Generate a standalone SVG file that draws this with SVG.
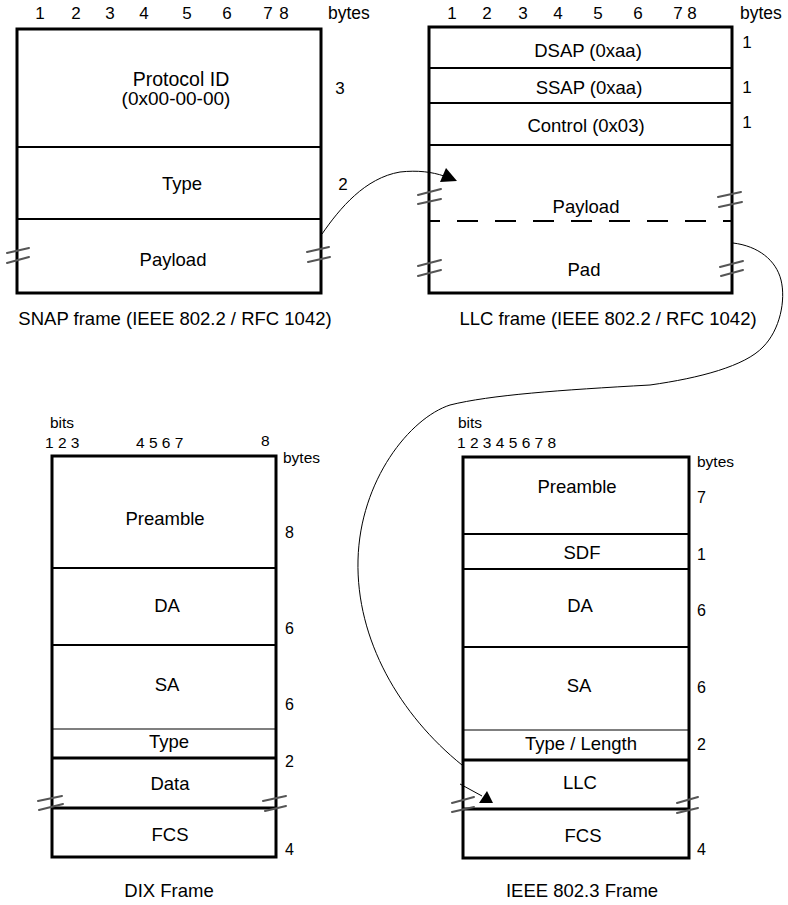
<svg xmlns="http://www.w3.org/2000/svg" width="788" height="905" viewBox="0 0 788 905">
<style>
text{font-family:"Liberation Sans",Arial,sans-serif;fill:#000}
.t{font-size:18.5px;text-anchor:middle}
.n{font-size:16px}
.nc{font-size:17px;text-anchor:middle}
.s{font-size:15.5px}
.by{font-size:17.5px}
.cap{font-size:18.5px;text-anchor:middle}
.outer{fill:#fff;stroke:#000;stroke-width:3}
.div{stroke:#000;stroke-width:2.2;fill:none}
.thin{stroke:#000;stroke-width:1.2;fill:none}
.thick{stroke:#000;stroke-width:3.2;fill:none}
.brk{stroke:#555;stroke-width:2;fill:none;stroke-linecap:round}
.con{stroke:#000;stroke-width:1;fill:none}
.dash{stroke:#000;stroke-width:2.2;fill:none;stroke-dasharray:21 17;stroke-dashoffset:11}
</style>

<g id="snap">
<rect class="outer" x="17" y="29" width="304" height="264"/>
<line class="div" x1="17" y1="147" x2="321" y2="147"/>
<line class="div" x1="17" y1="219" x2="321" y2="219"/>
<g class="nc">
<text x="40" y="19">1</text><text x="76" y="19">2</text><text x="110" y="19">3</text><text x="144" y="19">4</text>
<text x="187" y="19">5</text><text x="227" y="19">6</text><text x="268" y="19">7</text><text x="284" y="19">8</text>
</g>
<text class="by" x="328" y="19">bytes</text>
<text class="t" x="181" y="86" style="font-size:19.5px">Protocol ID</text>
<text class="t" x="176" y="105" style="font-size:19px">(0x00-00-00)</text>
<text class="nc" x="340" y="94">3</text>
<text class="t" x="182" y="190">Type</text>
<text class="nc" x="343" y="190">2</text>
<text class="t" x="173" y="266">Payload</text>
<path class="brk" d="M7,253 L29,248 M7,263 L29,257 M307,252 L329,247 M308,262 L330,257"/>
<text class="cap" x="175" y="325">SNAP frame (IEEE 802.2 / RFC 1042)</text>
</g>

<g id="llc">
<rect class="outer" x="429" y="27" width="303" height="266"/>
<line class="div" x1="429" y1="68" x2="732" y2="68"/>
<line class="div" x1="429" y1="103" x2="732" y2="103"/>
<line class="div" x1="429" y1="145" x2="732" y2="145"/>
<line class="dash" x1="430" y1="221" x2="731" y2="221"/>
<g class="nc">
<text x="452" y="19">1</text><text x="487" y="19">2</text><text x="523" y="19">3</text><text x="558" y="19">4</text>
<text x="598" y="19">5</text><text x="638" y="19">6</text><text x="678" y="19">7</text><text x="692" y="19">8</text>
<text x="747" y="48">1</text><text x="747" y="93">1</text><text x="747" y="128">1</text>
</g>
<text class="by" x="740" y="19">bytes</text>
<text class="t" x="588" y="57">DSAP (0xaa)</text>
<text class="t" x="589" y="94">SSAP (0xaa)</text>
<text class="t" x="586" y="132">Control (0x03)</text>
<text class="t" x="586" y="213">Payload</text>
<text class="t" x="584" y="276">Pad</text>
<path class="brk" d="M418,195 L441,189 M418,204 L441,199 M418,266 L441,260 M418,276 L441,270 M718,197 L741,192 M719,207 L742,202 M720,267 L743,261 M721,276 L743,270"/>
<text class="cap" x="608" y="325">LLC frame (IEEE 802.2 / RFC 1042)</text>
</g>

<g id="dix">
<rect class="outer" x="52" y="456" width="224" height="401"/>
<line class="div" x1="52" y1="568" x2="276" y2="568"/>
<line class="div" x1="52" y1="645" x2="276" y2="645"/>
<line class="thin" x1="52" y1="729" x2="276" y2="729"/>
<line class="thick" x1="52" y1="758" x2="276" y2="758"/>
<line class="thick" x1="52" y1="808" x2="276" y2="808"/>
<text class="s" x="50" y="428">bits</text>
<text class="s" x="45" y="448">1 2 3</text>
<text class="s" x="136" y="448">4 5 6 7</text>
<text class="s" x="261" y="446">8</text>
<text class="s" x="283" y="463">bytes</text>
<text class="t" x="165" y="525">Preamble</text>
<text class="n" x="285" y="538">8</text>
<text class="t" x="167" y="612">DA</text>
<text class="n" x="285" y="634">6</text>
<text class="t" x="167" y="691">SA</text>
<text class="n" x="285" y="710">6</text>
<text class="t" x="169" y="748">Type</text>
<text class="n" x="285" y="767">2</text>
<text class="t" x="170" y="790">Data</text>
<text class="t" x="170" y="841">FCS</text>
<text class="n" x="285" y="855">4</text>
<path class="brk" d="M38,801 L62,796 M39,810 L63,804 M263,801 L286,796 M265,811 L286,806"/>
<text class="cap" x="169" y="897">DIX Frame</text>
</g>

<g id="ieee">
<rect class="outer" x="463" y="457" width="226" height="401"/>
<line class="div" x1="463" y1="534" x2="689" y2="534"/>
<line class="div" x1="463" y1="569" x2="689" y2="569"/>
<line class="div" x1="463" y1="647" x2="689" y2="647"/>
<line class="thin" x1="463" y1="730" x2="689" y2="730"/>
<line class="thick" x1="463" y1="760" x2="689" y2="760"/>
<line class="thick" x1="463" y1="809" x2="689" y2="809"/>
<text class="s" x="458" y="428">bits</text>
<text class="s" x="457" y="448">1 2 3 4 5 6 7 8</text>
<text class="s" x="697" y="467">bytes</text>
<text class="t" x="577" y="493">Preamble</text>
<text class="n" x="697" y="503">7</text>
<text class="t" x="582" y="559">SDF</text>
<text class="n" x="697" y="560">1</text>
<text class="t" x="580" y="612">DA</text>
<text class="n" x="697" y="616">6</text>
<text class="t" x="579" y="692">SA</text>
<text class="n" x="697" y="693">6</text>
<text class="t" x="581" y="750">Type / Length</text>
<text class="n" x="697" y="750">2</text>
<text class="t" x="580" y="789">LLC</text>
<text class="t" x="583" y="842">FCS</text>
<text class="n" x="697" y="855">4</text>
<path class="brk" d="M452,803 L474,797 M452,812 L474,807 M677,803 L698,797 M677,813 L698,808"/>
<text class="cap" x="582" y="897">IEEE 802.3 Frame</text>
</g>

<g id="connectors">
<path class="con" d="M322,234 C340,208 365,178 400,172 C418,170 432,172 444,176"/>
<polygon points="440,182 446,168 457,181" fill="#000"/>
<path class="con" d="M733,243 C758,246 776,260 781,280 C786,300 780,330 763,347 C745,366 700,378 650,385 C560,390 490,395 450,405 C410,418 360,480 358,560 C356,640 400,715 462,765"/>
<path class="con" d="M460,784 L482,796"/>
<polygon points="479,803 487,791 493,803" fill="#000"/>
</g>
</svg>
